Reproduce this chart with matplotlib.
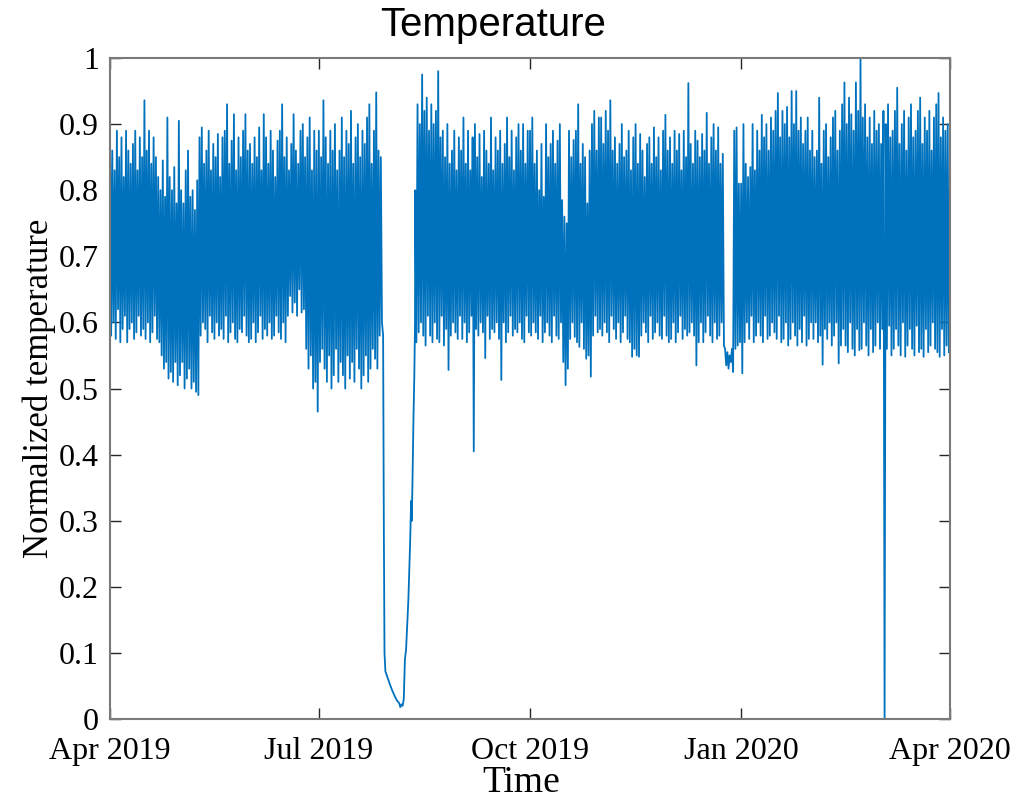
import matplotlib
matplotlib.use("Agg")
import matplotlib.pyplot as plt
import matplotlib.dates as mdates
import numpy as np
import pandas as pd

nan = np.nan

# Daily maximum / minimum of normalized temperature, Apr 2019 - Mar 2020.
# NaN marks the days covered by the sensor outage below.
HIGH_APR = [0.90, 0.86, 0.83, 0.89, 0.85, 0.88, 0.82, 0.89, 0.86, 0.84,
            0.87, 0.89, 0.83, 0.88, 0.85, 0.936, 0.86, 0.89, 0.84, 0.88,
            0.85, 0.82, 0.80, 0.845, 0.79, 0.91, 0.82, 0.80, 0.835, 0.78]
LOW_APR = [0.58, 0.60, 0.575, 0.62, 0.57, 0.59, 0.61, 0.57, 0.59, 0.60,
           0.575, 0.585, 0.61, 0.58, 0.59, 0.575, 0.60, 0.57, 0.585, 0.61,
           0.575, 0.57, 0.55, 0.53, 0.54, 0.515, 0.525, 0.51, 0.54, 0.505]

HIGH_MAY = [0.905, 0.80, 0.78, 0.83, 0.86, 0.79, 0.80, 0.77, 0.815, 0.88,
            0.895, 0.84, 0.86, 0.89, 0.83, 0.87, 0.85, 0.885, 0.82, 0.88,
            0.89, 0.93, 0.84, 0.875, 0.915, 0.83, 0.88, 0.85, 0.89, 0.915,
            0.86]
LOW_MAY = [0.52, 0.54, 0.50, 0.515, 0.53, 0.50, 0.51, 0.495, 0.49, 0.58,
           0.60, 0.59, 0.57, 0.61, 0.585, 0.575, 0.60, 0.58, 0.59, 0.575,
           0.61, 0.57, 0.585, 0.60, 0.575, 0.57, 0.59, 0.585, 0.61, 0.58,
           0.57]

HIGH_JUN = [0.87, 0.84, 0.88, 0.85, 0.895, 0.83, 0.915, 0.88, 0.84, 0.89,
            0.86, 0.82, 0.875, 0.89, 0.93, 0.85, 0.88, 0.83, 0.87, 0.915,
            0.86, 0.84, 0.89, 0.90, 0.85, 0.88, 0.91, 0.83, 0.89, 0.86]
LOW_JUN = [0.575, 0.60, 0.57, 0.585, 0.61, 0.575, 0.59, 0.58, 0.60, 0.575,
           0.58, 0.61, 0.585, 0.575, 0.60, 0.57, 0.61, 0.64, 0.615, 0.63,
           0.61, 0.65, 0.615, 0.62, 0.56, 0.53, 0.55, 0.50, 0.51, 0.465]

HIGH_JUL = [0.89, 0.85, 0.936, 0.88, 0.84, 0.89, 0.86, 0.90, 0.83, 0.86,
            0.91, 0.85, 0.89, 0.87, 0.92, 0.84, 0.88, 0.90, 0.85, 0.89,
            0.87, 0.91, 0.93, 0.84, 0.89, 0.948, 0.86, 0.85,
            nan, nan, nan]
LOW_JUL = [0.54, 0.56, 0.53, 0.51, 0.55, 0.50, 0.52, 0.56, 0.51, 0.54,
           0.52, 0.50, 0.55, 0.515, 0.54, 0.51, 0.56, 0.53, 0.50, 0.52,
           0.55, 0.51, 0.53, 0.56, 0.545, 0.53, 0.58, 0.60,
           nan, nan, nan]

HIGH_AUG = [nan] * 11 + [
            0.80, 0.93, 0.90, 0.975, 0.92, 0.94, 0.89, 0.93, 0.90, 0.92,
            0.98, 0.88, 0.89, 0.85, 0.90, 0.84, 0.86, 0.89, 0.83, 0.88]
LOW_AUG = [nan] * 11 + [
           0.57, 0.585, 0.60, 0.58, 0.565, 0.61, 0.58, 0.57, 0.60, 0.575,
           0.57, 0.61, 0.565, 0.59, 0.528, 0.58, 0.60, 0.585, 0.575, 0.61]

HIGH_SEP = [0.86, 0.91, 0.84, 0.89, 0.83, 0.88, 0.90, 0.85, 0.885, 0.82,
            0.89, 0.86, 0.84, 0.91, 0.83, 0.88, 0.86, 0.89, 0.84, 0.87,
            0.91, 0.85, 0.89, 0.83, 0.88, 0.90, 0.86, 0.90, 0.84, 0.89]
LOW_SEP = [0.575, 0.60, 0.57, 0.585, 0.61, 0.405, 0.59, 0.58, 0.60, 0.585,
           0.546, 0.61, 0.575, 0.59, 0.585, 0.60, 0.575, 0.513, 0.60, 0.57,
           0.585, 0.61, 0.58, 0.59, 0.585, 0.60, 0.575, 0.57, 0.61, 0.585]

HIGH_OCT = [0.89, 0.91, 0.84, 0.86, 0.80, 0.87, 0.79, 0.90, 0.85, 0.87,
            0.89, 0.84, 0.875, 0.90, 0.785, 0.76, 0.75, 0.89, 0.85, 0.876,
            0.89, 0.93, 0.84, 0.87, 0.85, 0.78, 0.86, 0.90, 0.92, 0.86,
            0.91]
LOW_OCT = [0.58, 0.60, 0.585, 0.575, 0.61, 0.57, 0.585, 0.60, 0.58, 0.57,
           0.61, 0.58, 0.575, 0.60, 0.54, 0.505, 0.53, 0.575, 0.60, 0.578,
           0.57, 0.563, 0.60, 0.56, 0.545, 0.55, 0.518, 0.58, 0.61, 0.585,
           0.59]

HIGH_NOV = [0.91, 0.87, 0.92, 0.89, 0.936, 0.86, 0.88, 0.84, 0.87, 0.90,
            0.85, 0.86, 0.89, 0.83, 0.88, 0.90, 0.84, 0.885, 0.86, 0.82,
            0.87, 0.88, 0.84, 0.895, 0.85, 0.88, 0.83, 0.89, 0.914, 0.86]
LOW_NOV = [0.58, 0.60, 0.585, 0.57, 0.61, 0.59, 0.575, 0.60, 0.57, 0.585,
           0.61, 0.575, 0.57, 0.548, 0.56, 0.55, 0.548, 0.58, 0.60, 0.585,
           0.57, 0.61, 0.575, 0.585, 0.60, 0.58, 0.575, 0.61, 0.58, 0.57]

HIGH_DEC = [0.88, 0.84, 0.89, 0.86, 0.885, 0.83, 0.89, 0.85, 0.962, 0.87,
            0.84, 0.89, 0.875, 0.85, 0.885, 0.86, 0.917, 0.84, 0.88, 0.90,
            0.86, 0.895, 0.84, 0.855, 0.56, 0.555, 0.55, 0.56, 0.89, 0.895,
            0.81]
LOW_DEC = [0.575, 0.60, 0.57, 0.585, 0.61, 0.575, 0.59, 0.58, 0.585, 0.60,
           0.58, 0.535, 0.57, 0.60, 0.57, 0.585, 0.61, 0.58, 0.57, 0.60,
           0.575, 0.58, 0.60, 0.565, 0.535, 0.53, 0.54, 0.525, 0.56, 0.565,
           0.57]

HIGH_JAN = [0.81, 0.90, 0.84, 0.82, 0.835, 0.90, 0.83, 0.89, 0.86, 0.914,
            0.88, 0.90, 0.86, 0.91, 0.89, 0.92, 0.947, 0.88, 0.92, 0.90,
            0.926, 0.88, 0.95, 0.90, 0.95, 0.89, 0.91, 0.87, 0.89, 0.91,
            0.86]
LOW_JAN = [0.523, 0.57, 0.60, 0.575, 0.61, 0.57, 0.58, 0.60, 0.58, 0.57,
           0.61, 0.575, 0.58, 0.60, 0.585, 0.575, 0.61, 0.57, 0.575, 0.60,
           0.565, 0.575, 0.60, 0.58, 0.565, 0.59, 0.57, 0.61, 0.565, 0.575,
           0.60]

HIGH_FEB = [0.89, 0.85, 0.86, 0.94, 0.84, 0.89, 0.90, 0.85, 0.88, 0.91,
            0.92, 0.86, 0.89, 0.93, 0.963, 0.90, 0.94, 0.915, 0.89, 0.963,
            0.92, 1.0, 0.91, 0.93, 0.88, 0.91, 0.87, 0.92, 0.89]
LOW_FEB = [0.575, 0.60, 0.57, 0.58, 0.536, 0.59, 0.575, 0.60, 0.565, 0.58,
           0.60, 0.538, 0.565, 0.59, 0.565, 0.555, 0.60, 0.56, 0.55, 0.59,
           0.558, 0.56, 0.60, 0.565, 0.55, 0.59, 0.555, 0.565, 0.60]

HIGH_MAR = [0.90, 0.87, 0.92, 0.90, 0.93, 0.88, 0.89, 0.92, 0.955, 0.87,
            0.90, 0.92, 0.86, 0.91, 0.93, 0.88, 0.89, 0.92, 0.94, 0.87,
            0.91, 0.89, 0.92, 0.86, 0.91, 0.93, 0.947, 0.88, 0.91, 0.89,
            0.90]
LOW_MAR = [0.56, 0.59, 0.0, 0.56, 0.595, 0.55, 0.56, 0.59, 0.565, 0.55,
           0.60, 0.548, 0.565, 0.59, 0.56, 0.55, 0.595, 0.555, 0.56, 0.548,
           0.59, 0.555, 0.565, 0.60, 0.56, 0.555, 0.548, 0.59, 0.55, 0.565,
           0.555]

# Sensor outage at the end of July: slow drift down and recovery
# (day offset from 2019-04-01, normalized value)
OUTAGE_DAY = [119.0, 119.3, 119.6, 120.0, 121.0, 122.0, 123.0, 124.0,
              125.0, 126.0, 126.5, 127.0, 127.5, 128.0, 128.5, 129.0,
              130.0, 130.8, 131.2, 131.5, 131.8, 132.2, 132.6, 132.9]
OUTAGE_VALUE = [0.58, 0.30, 0.10, 0.072, 0.062, 0.052, 0.043, 0.035,
                0.028, 0.024, 0.018, 0.022, 0.020, 0.030, 0.090, 0.105,
                0.180, 0.270, 0.330, 0.300, 0.360, 0.450, 0.520, 0.600]

START = pd.Timestamp("2019-04-01")
END = pd.Timestamp("2020-04-01")
TICK_DATES = ["2019-04-01", "2019-07-01", "2019-10-01", "2020-01-01", "2020-04-01"]

high = np.array(HIGH_APR + HIGH_MAY + HIGH_JUN + HIGH_JUL + HIGH_AUG + HIGH_SEP
                + HIGH_OCT + HIGH_NOV + HIGH_DEC + HIGH_JAN + HIGH_FEB + HIGH_MAR)
low = np.array(LOW_APR + LOW_MAY + LOW_JUN + LOW_JUL + LOW_AUG + LOW_SEP
               + LOW_OCT + LOW_NOV + LOW_DEC + LOW_JAN + LOW_FEB + LOW_MAR)

# one max and one min sample per day, with the outage trace spliced in
t_days, vals = [], []
outage_done = False
for d in range(len(high)):
    if np.isnan(high[d]):
        if not outage_done:
            t_days.extend(OUTAGE_DAY)
            vals.extend(OUTAGE_VALUE)
            outage_done = True
        continue
    t_days.extend([d, d + 0.5])
    vals.extend([high[d], low[d]])

times = START + pd.to_timedelta(np.array(t_days), unit="D")

fig = plt.figure(figsize=(10.27, 8.02), dpi=100)
ax = fig.add_axes([110 / 1027, 83 / 802, 840 / 1027, 661 / 802])
ax.plot(times, vals, color="#0072BD", linewidth=1.3)

ax.set_xlim(START, END)
ax.set_ylim(0, 1)
ax.set_yticks(np.arange(0, 1.01, 0.1))
ax.set_yticklabels(["0", "0.1", "0.2", "0.3", "0.4", "0.5", "0.6", "0.7",
                    "0.8", "0.9", "1"])
ax.set_xticks(pd.to_datetime(TICK_DATES))
ax.xaxis.set_major_formatter(mdates.DateFormatter("%b %Y"))

serif = "Liberation Serif"
for lab in ax.get_xticklabels() + ax.get_yticklabels():
    lab.set_fontfamily(serif)
    lab.set_fontsize(23)
ax.tick_params(direction="in", length=8, width=1.0, color="#262626",
               top=True, right=True)
ax.tick_params(axis="x", pad=13)
ax.tick_params(axis="y", pad=8)
for sp in ax.spines.values():
    sp.set_color("#7a7a7a")
    sp.set_linewidth(1.5)

ax.set_xlabel("Time", fontfamily=serif, fontsize=27)
ax.xaxis.set_label_coords(411 / 840, -47 / 661)
ax.set_ylabel("Normalized temperature", fontfamily=serif, fontsize=25, labelpad=2)
fig.text(493 / 1027, 1 - 25 / 802, "Temperature", fontfamily="Liberation Sans",
         fontsize=29, ha="center", va="center")

fig.savefig("out.png", dpi=100)
